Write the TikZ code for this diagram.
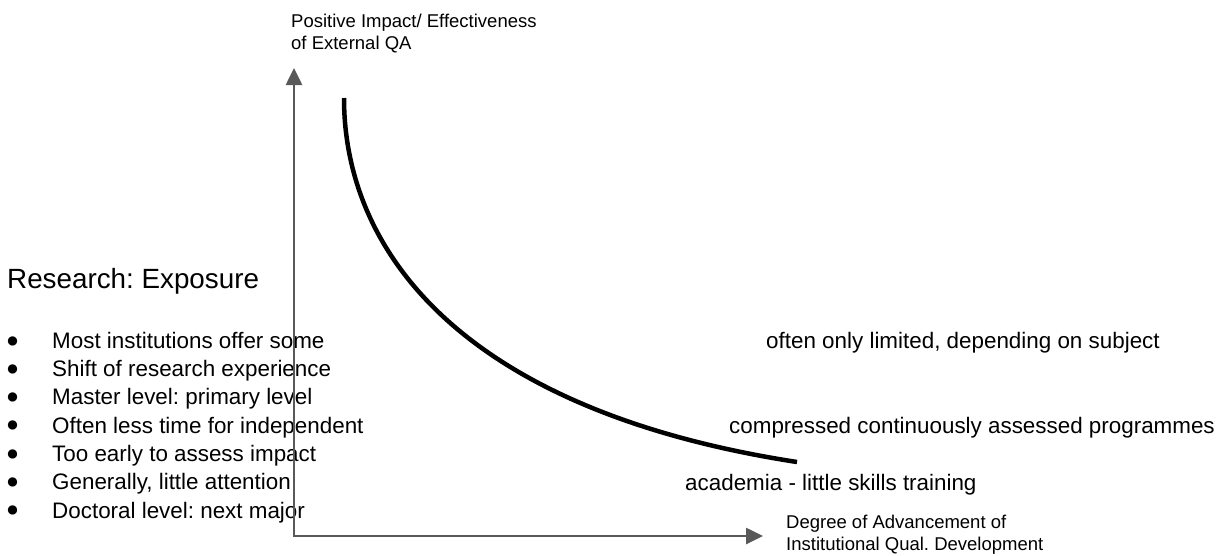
\documentclass[tikz,border=0pt]{standalone}
\usepackage{fontspec}
\setmainfont{Liberation Sans}
\usetikzlibrary{arrows.meta}
\definecolor{axisgray}{HTML}{595959}
\frenchspacing
\begin{document}
\begin{tikzpicture}[x=1pt,y=-1pt,
  axis/.style={draw=axisgray, line width=2.6pt, line join=miter,
    {Triangle[length=17pt,width=16pt]}-{Triangle[length=17pt,width=16pt]}},
  trend/.style={draw=black, line width=4.5pt},
  listtext/.style={anchor=base west, inner sep=0pt, font=\fontsize{22.4}{27}\selectfont},
  bullettext/.style={anchor=base west, inner sep=0pt, font=\fontsize{21.5}{24}\selectfont},
  axlabel/.style={anchor=base west, inner sep=0pt, font=\fontsize{18.5}{22}\selectfont},
  titletext/.style={anchor=base west, inner sep=0pt, font=\fontsize{27.8}{33}\selectfont}]
\useasboundingbox (0,0) rectangle (1219,555);

% title
\node[titletext] (title) at (7,288) {Research: Exposure};

% bullets and list items
\foreach \i/\t [count=\k from 0] in {
  i1/Most institutions offer some,
  i2/Shift of research experience,
  i3/Master level: primary level,
  i4/Often less time for independent,
  i5/Too early to assess impact,
  i6/{Generally, little attention},
  i7/Doctoral level: next major}{
  \node[bullettext] (b\i) at (6,347+28.33*\k) {●};
  \node[listtext] (\i) at (52,348.3+28.33*\k) {\t};
}

% right-hand continuations
\node[listtext] (r1) at (766,348.3) {often only limited, depending on subject};
\node[listtext] (r4) at (729,433.3) {compressed continuously assessed programmes};
\node[listtext] (r6) at (685,490) {academia - little skills training};

% axis labels
\node[axlabel] (yl1) at (291,27) {Positive Impact/ Effectiveness};
\node[axlabel] (yl2) at (291,49) {of External QA};
\node[axlabel] (xl1) at (786,528) {Degree of Advancement of};
\node[axlabel] (xl2) at (786,550) {Institutional Qual. Development};

% axes
\coordinate (O) at (294,536);
\coordinate (ytip) at (294,68);
\coordinate (xtip) at (763,536);
\draw[axis] (ytip) |- (xtip);

% curve
\coordinate (c0) at (344,98);
\coordinate (c1) at (797,462);
\draw[trend] (c0) .. controls (344,250) and (460,410) .. (c1);
\end{tikzpicture}
\end{document}
